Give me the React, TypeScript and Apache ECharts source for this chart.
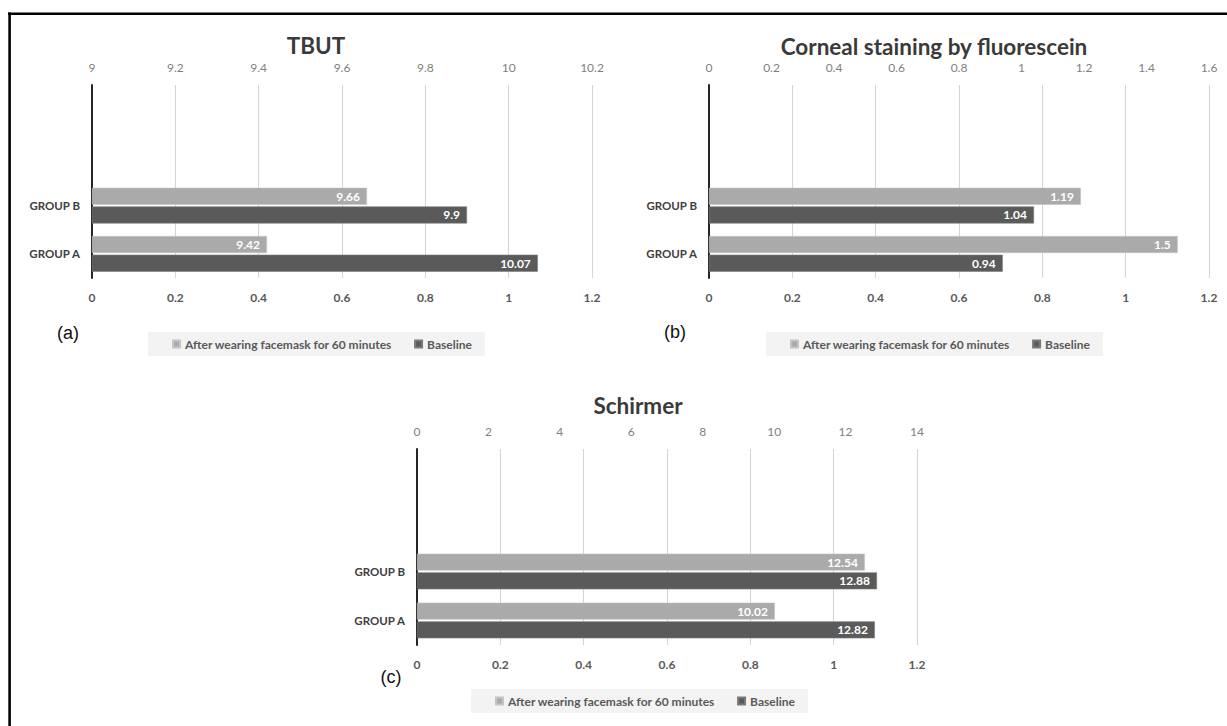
import React, { useEffect, useRef } from "react";
import * as echarts from "echarts";

// ---- data ----
const categories = ["GROUP A", "GROUP B", "", ""];
const seriesNames = ["After wearing facemask for 60 minutes", "Baseline"];

const tbutAfter = [9.42, 9.66];
const tbutBaseline = [10.07, 9.9];
const cornealAfter = [1.5, 1.19];
const cornealBaseline = [0.94, 1.04];
const schirmerAfter = [10.02, 12.54];
const schirmerBaseline = [12.82, 12.88];

// top axis scales [min, max, interval]
const tbutScale = [9, 10.2, 0.2];
const cornealScale = [0, 1.6, 0.2];
const schirmerScale = [0, 14, 2];
// bottom (secondary) axis scale shared by all panels
const bottomScale = [0, 1.2, 0.2];

const titles = ["TBUT", "Corneal staining by fluorescein", "Schirmer"];
const tags = ["(a)", "(b)", "(c)"];

// ---- layout / style ----
const FONT = "Lato, 'Open Sans', sans-serif";
const LIGHT = "#aaaaaa";
const DARK = "#5a5a5a";

const panels = [
  { grid: { left: 92, top: 85, width: 500, height: 193 }, cx: 316, titleY: 45, tagX: 68, tagY: 333, legendLeft: 148, legendTop: 332, after: tbutAfter, base: tbutBaseline, scale: tbutScale },
  { grid: { left: 709, top: 85, width: 500, height: 193 }, cx: 934, titleY: 46, tagX: 675, tagY: 332, legendLeft: 766, legendTop: 332, after: cornealAfter, base: cornealBaseline, scale: cornealScale },
  { grid: { left: 417, top: 449, width: 500, height: 196 }, cx: 638, titleY: 405, tagX: 391, tagY: 677, legendLeft: 471, legendTop: 689, after: schirmerAfter, base: schirmerBaseline, scale: schirmerScale },
];

function buildOption() {
  const grid: any[] = [];
  const xAxis: any[] = [];
  const yAxis: any[] = [];
  const series: any[] = [];
  const legend: any[] = [];
  const graphic: any[] = [];

  panels.forEach((p, i) => {
    grid.push({ ...p.grid, outerBoundsMode: "none", containLabel: false });
    // bottom axis (secondary scale, carries gridlines)
    xAxis.push({
      type: "value",
      gridIndex: i,
      position: "bottom",
      min: bottomScale[0],
      max: bottomScale[1],
      interval: bottomScale[2],
      axisLine: { show: false },
      axisTick: { show: false },
      splitLine: { show: true, lineStyle: { color: "#d4d4d4", width: 1 } },
      axisLabel: { color: "#595959", fontWeight: "bold", fontSize: 12, fontFamily: FONT, margin: 13 },
    });
    // top axis (data scale)
    xAxis.push({
      type: "value",
      gridIndex: i,
      position: "top",
      min: p.scale[0],
      max: p.scale[1],
      interval: p.scale[2],
      startValue: p.scale[0],
      axisLine: { show: false },
      axisTick: { show: false },
      splitLine: { show: false },
      axisLabel: { color: "#7f7f7f", fontSize: 12, fontFamily: FONT, margin: 12 },
    });
    yAxis.push({
      type: "category",
      gridIndex: i,
      data: categories,
      axisLine: { show: true, lineStyle: { color: "#262626", width: 2 } },
      axisTick: { show: false },
      splitLine: { show: false },
      axisLabel: { color: "#404040", fontWeight: "bold", fontSize: 11.5, fontFamily: FONT, margin: 12 },
    });
    const label = {
      show: true,
      position: "insideRight",
      distance: 7,
      color: "#ffffff",
      fontWeight: "bold",
      fontSize: 12,
      fontFamily: FONT,
    };
    series.push({
      type: "bar",
      name: seriesNames[0],
      xAxisIndex: i * 2 + 1,
      yAxisIndex: i,
      data: p.after,
      barWidth: 17,
      barGap: "10%",
      itemStyle: { color: LIGHT, borderColor: "#c4c4c4", borderWidth: 0.6 },
      label,
      clip: true,
    });
    series.push({
      type: "bar",
      name: seriesNames[1],
      xAxisIndex: i * 2 + 1,
      yAxisIndex: i,
      data: p.base,
      barWidth: 17,
      barGap: "10%",
      itemStyle: { color: DARK, borderColor: "#7a7a7a", borderWidth: 0.6 },
      label,
      clip: true,
    });
    legend.push({
      data: seriesNames,
      left: p.legendLeft,
      top: p.legendTop,
      orient: "horizontal",
      backgroundColor: "#f3f3f3",
      padding: [6, 13, 6, 24],
      itemGap: 22,
      icon: "rect",
      itemWidth: 7,
      itemHeight: 7,
      selectedMode: false,
      textStyle: { color: "#595959", fontWeight: "bold", fontSize: 12, fontFamily: FONT },
    });
    graphic.push({
      type: "text",
      x: p.cx,
      y: p.titleY,
      style: {
        text: titles[i],
        align: "center",
        verticalAlign: "middle",
        textAlign: "center",
        textVerticalAlign: "middle",
        font: `bold 22.5px ${FONT}`,
        fill: "#3a3a3a",
      },
    });
    graphic.push({
      type: "text",
      x: p.tagX,
      y: p.tagY,
      style: {
        text: tags[i],
        align: "center",
        verticalAlign: "middle",
        textAlign: "center",
        textVerticalAlign: "middle",
        font: "18px 'Liberation Sans', Arial, sans-serif",
        fill: "#111111",
      },
    });
  });

  // frame: top and left borders
  graphic.push({ type: "rect", shape: { x: 8, y: 12.5, width: 1219, height: 2.5 }, style: { fill: "#000" } });
  graphic.push({ type: "rect", shape: { x: 8.3, y: 12.5, width: 2.6, height: 714 }, style: { fill: "#000" } });

  return {
    animation: false,
    backgroundColor: "#ffffff",
    grid,
    xAxis,
    yAxis,
    series,
    legend,
    graphic,
  };
}

export default function App() {
  const ref = useRef<HTMLDivElement>(null);
  useEffect(() => {
    if (!ref.current) return;
    const chart = echarts.init(ref.current, null, { renderer: "svg" });
    chart.setOption(buildOption() as any);
    return () => chart.dispose();
  }, []);
  return (
    <div
      ref={ref}
      style={{ position: "absolute", left: 0, top: 0, width: 1227, height: 726, background: "#fff" }}
    />
  );
}
